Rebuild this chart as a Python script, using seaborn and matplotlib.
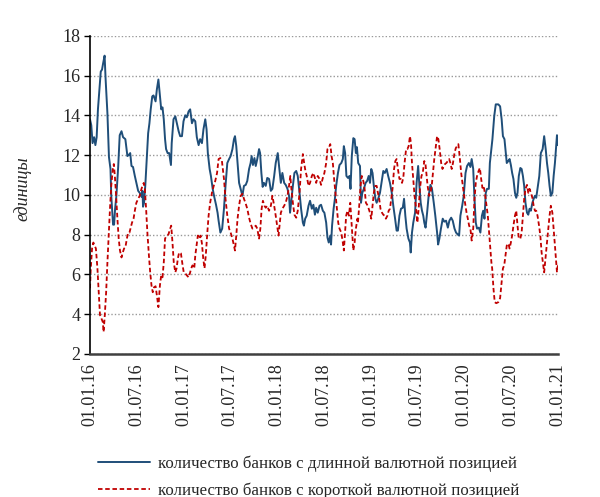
import pandas as pd
import matplotlib
matplotlib.use("Agg")
import matplotlib.pyplot as plt
import matplotlib.dates as mdates
import seaborn as sns

# days since 01.01.2016 and number of banks
long_day = [0, 5, 10, 16, 21, 26, 31, 38, 42, 47, 51, 57, 61, 68, 74, 80, 83, 90, 94, 98, 103, 110, 116, 123, 129, 138, 146, 151, 157, 162, 168, 175, 181, 188, 194, 201, 205, 207, 211, 216, 222, 227, 232, 237, 243, 248,
            256, 261, 267, 273, 278, 283, 288, 293, 297, 303, 309, 316, 319, 326, 333, 339, 346, 352, 359, 365, 372, 378, 385, 391, 398, 404, 411, 417, 424, 430, 437, 443, 450, 455, 460, 467, 472, 479, 485, 492, 498, 502, 509, 516,
            523, 529, 536, 543, 549, 556, 562, 566, 571, 576, 582, 588, 595, 601, 608, 614, 621, 627, 631, 636, 642, 647, 653, 660, 664, 669, 674, 679, 686, 692, 699, 706, 712, 719, 725, 733, 738, 745, 751, 758, 764, 771, 777,
            781, 785, 792, 798, 805, 811, 818, 824, 831, 835, 840, 846, 853, 859, 866, 872, 878, 883, 889, 896, 902, 909, 915, 922, 927, 932, 938, 941, 945, 951, 956, 961, 968, 974, 981, 987, 991, 996, 1001, 1007, 1013, 1017, 1022, 1028, 1033, 1038,
            1042, 1047, 1054, 1058, 1063, 1069, 1076, 1082, 1088, 1093, 1098, 1103, 1108, 1114, 1119, 1125, 1132, 1138, 1145, 1151, 1158, 1164, 1171, 1178, 1184, 1191, 1197, 1202, 1208, 1214, 1221, 1226, 1231, 1236, 1243, 1249, 1252, 1257, 1262, 1269, 1275, 1281, 1286, 1291, 1296, 1301,
            1305, 1310, 1316, 1322, 1329, 1335, 1342, 1348, 1355, 1359, 1364, 1370, 1377, 1383, 1390, 1397, 1403, 1410, 1416, 1423, 1429, 1436, 1441, 1446, 1453, 1459, 1466, 1472, 1479, 1485, 1490, 1496, 1501, 1506, 1511, 1518, 1524, 1530, 1535, 1540, 1545, 1550, 1557, 1561,
            1566, 1571, 1578, 1584, 1594, 1601, 1607, 1612, 1618, 1623, 1627, 1633, 1638, 1643, 1648, 1653, 1659, 1664, 1669, 1674, 1680, 1685, 1690, 1695, 1700, 1706, 1711, 1716, 1721, 1727, 1732, 1737, 1742, 1747, 1754, 1760, 1767, 1773, 1779, 1784, 1789, 1794, 1799, 1805, 1810, 1815, 1820, 1823, 1827]
long_val = [13.8, 13.5, 12.6, 12.9, 12.5, 12.9, 14.3, 15.5, 16.2, 16.3, 16.6, 17.0, 15.8, 14.1, 11.9, 11.3, 9.95, 8.5, 8.5, 9.3, 9.95, 11.4, 13.0, 13.2, 12.9, 12.8, 11.95, 12.0, 12.1, 11.45, 11.4, 10.95, 10.6, 10.2, 10.1, 9.9, 10.2, 9.4, 9.6, 10.5, 11.95, 13.1, 13.6, 14.3, 14.95, 15.0,
            14.7, 15.3, 15.8, 14.95, 14.3, 14.4, 13.8, 12.8, 12.3, 12.1, 12.1, 11.5, 12.6, 13.8, 13.95, 13.6, 13.2, 12.95, 12.95, 13.7, 14.0, 13.9, 14.2, 14.3, 13.6, 13.8, 13.7, 12.9, 12.5, 12.8, 12.6, 13.3, 13.8, 13.3, 12.1, 11.3, 10.95, 10.3, 9.9, 9.5, 9.1, 8.7, 8.1, 8.3,
            9.3, 10.45, 11.6, 11.8, 11.95, 12.3, 12.8, 12.95, 12.45, 11.6, 10.6, 10.3, 9.95, 10.45, 10.5, 10.7, 11.3, 11.6, 11.95, 11.5, 11.85, 11.45, 11.8, 12.3, 12.1, 11.1, 10.4, 10.6, 10.45, 10.85, 10.8, 10.2, 10.3, 10.95, 11.6, 12.1, 11.45, 10.6, 11.1, 10.6, 10.5, 10.3, 9.95,
            9.1, 9.6, 10.45, 11.1, 11.2, 10.95, 10.1, 9.3, 8.6, 8.45, 8.8, 8.95, 9.45, 9.7, 9.3, 9.5, 9.0, 9.35, 9.1, 9.45, 9.5, 9.2, 9.1, 8.6, 7.85, 7.6, 7.95, 7.5, 8.45, 9.3, 9.8, 10.45, 11.1, 11.5, 11.6, 11.8, 12.45, 12.1, 10.95, 10.85, 10.95, 10.3, 11.95, 12.85, 12.8, 12.1,
            12.4, 11.6, 11.45, 9.6, 10.1, 10.3, 10.6, 10.7, 10.95, 10.6, 11.3, 11.1, 10.45, 9.8, 9.6, 9.8, 10.1, 10.6, 11.2, 11.1, 11.3, 10.95, 10.6, 10.1, 9.45, 8.8, 8.2, 8.2, 8.95, 9.3, 9.35, 9.8, 8.95, 8.3, 7.8, 7.6, 7.1, 8.1, 8.6, 9.1, 10.6, 11.45, 10.45, 9.6, 9.2, 8.95,
            8.6, 8.35, 9.1, 9.95, 10.5, 10.3, 9.6, 8.95, 8.1, 7.5, 7.8, 8.3, 8.8, 8.65, 8.7, 8.35, 8.7, 8.85, 8.7, 8.3, 8.1, 8.0, 7.95, 8.95, 9.45, 9.95, 11.1, 11.45, 11.6, 11.4, 11.8, 11.3, 9.8, 8.6, 8.3, 8.35, 8.1, 8.95, 9.2, 8.8, 10.1, 10.3, 10.3, 11.6,
            12.2, 12.8, 13.95, 14.55, 14.55, 14.45, 13.8, 12.95, 12.8, 12.1, 11.6, 11.7, 11.8, 11.5, 11.1, 10.8, 10.1, 9.85, 10.1, 10.95, 11.35, 11.3, 10.95, 10.45, 9.6, 9.1, 9.0, 9.3, 9.2, 9.6, 9.8, 9.95, 9.85, 10.3, 10.95, 12.1, 12.3, 12.95, 12.3, 11.6, 11.1, 10.45, 9.95, 10.1, 10.95, 11.6, 12.45, 13.0, 12.5]

short_day = [0, 3, 8, 13, 18, 23, 29, 34, 39, 44, 50, 53, 57, 63, 68, 73, 78, 83, 89, 93, 97, 102, 107, 112, 117, 123, 128, 133, 138, 144, 149, 154, 159, 164, 170, 175, 181, 188, 194, 201, 206, 210, 214, 219, 224, 230, 235, 240, 245, 250,
             256, 261, 267, 273, 278, 283, 288, 293, 300, 306, 313, 317, 322, 327, 333, 338, 343, 348, 355, 361, 366, 372, 378, 385, 390, 395, 400, 407, 411, 416, 421, 426, 432, 437, 442, 447, 452, 458, 463, 469, 476, 483, 489, 496, 502, 509, 515,
             523, 529, 536, 543, 549, 556, 562, 566, 571, 576, 582, 588, 595, 601, 608, 614, 621, 627, 634, 640, 647, 653, 660, 665, 670, 675, 681, 686, 692, 699, 706, 712, 719, 725, 732, 736, 741, 745, 751, 758, 764, 771, 777, 782,
             785, 792, 798, 805, 811, 818, 824, 831, 836, 841, 846, 853, 859, 866, 872, 878, 883, 889, 896, 902, 909, 915, 922, 927, 932, 938, 943, 948, 953, 958, 964, 969, 974, 981, 987, 991, 995, 1000, 1005, 1011, 1016, 1020, 1024, 1028, 1033, 1038, 1044,
             1046, 1051, 1056, 1061, 1067, 1072, 1077, 1082, 1088, 1093, 1098, 1103, 1108, 1114, 1119, 1124, 1129, 1134, 1140, 1145, 1150, 1155, 1161, 1166, 1171, 1176, 1181, 1187, 1192, 1197, 1202, 1208, 1213, 1218, 1223, 1228, 1234, 1239, 1244, 1249, 1253, 1257, 1262, 1267, 1273, 1278, 1283, 1288, 1294, 1299,
             1305, 1310, 1318, 1324, 1329, 1334, 1339, 1344, 1350, 1355, 1360, 1365, 1371, 1376, 1381, 1386, 1391, 1397, 1402, 1407, 1412, 1417, 1423, 1428, 1433, 1438, 1443, 1449, 1454, 1459, 1464, 1470, 1475, 1480, 1485, 1490, 1496, 1501, 1506, 1511, 1517, 1522, 1527, 1532, 1537, 1543, 1548, 1553, 1558, 1563,
             1567, 1570, 1575, 1580, 1586, 1594, 1601, 1607, 1612, 1617, 1622, 1627, 1633, 1638, 1643, 1648, 1653, 1659, 1664, 1669, 1674, 1680, 1685, 1690, 1695, 1700, 1706, 1711, 1716, 1721, 1727, 1732, 1737, 1742, 1747, 1753, 1758, 1763, 1768, 1773, 1779, 1784, 1789, 1794, 1799, 1805, 1810, 1815, 1820, 1823, 1827]
short_val = [5.3, 6.3, 7.3, 7.6, 7.45, 7.3, 6.3, 5.1, 3.95, 3.8, 3.6, 3.1, 3.8, 5.1, 6.6, 7.95, 9.3, 10.45, 11.3, 11.55, 10.95, 9.95, 8.8, 7.8, 7.2, 6.85, 7.1, 7.3, 7.35, 7.8, 8.1, 8.1, 8.35, 8.6, 8.8, 9.2, 9.6, 9.8, 9.95, 10.3, 10.5, 10.6, 10.3, 9.3, 8.1, 6.95, 6.1, 5.45, 5.1, 5.35,
             5.4, 4.95, 4.35, 5.45, 5.95, 5.85, 6.6, 7.8, 7.95, 8.0, 8.3, 8.45, 7.6, 6.6, 6.1, 6.3, 6.8, 7.1, 7.05, 6.5, 6.1, 6.05, 5.95, 5.85, 6.05, 6.3, 6.45, 6.3, 6.95, 7.45, 7.95, 7.8, 7.95, 7.55, 6.8, 6.3, 6.95, 8.1, 8.95, 9.6, 10.1, 10.45, 10.7, 11.1, 11.8, 11.85, 11.7,
             10.8, 9.8, 8.95, 8.3, 8.1, 7.8, 7.45, 7.2, 7.95, 8.8, 9.45, 9.95, 10.05, 9.8, 9.55, 9.3, 8.85, 8.55, 8.3, 8.35, 8.45, 8.3, 7.8, 8.3, 9.3, 9.7, 9.45, 9.35, 9.45, 9.2, 9.45, 9.95, 9.45, 8.95, 8.3, 7.95, 8.6, 9.1, 9.3, 9.45, 9.6, 9.95, 10.45, 10.95,
             10.45, 9.6, 9.0, 8.85, 9.2, 10.1, 11.3, 12.05, 11.6, 11.2, 10.95, 10.45, 10.6, 10.95, 11.1, 10.85, 10.6, 10.95, 10.8, 10.5, 10.85, 11.1, 11.6, 12.3, 12.35, 12.55, 11.95, 11.6, 10.8, 10.1, 9.3, 8.6, 8.3, 8.1, 7.6, 7.2, 7.95, 8.95, 9.2, 8.95, 9.6, 8.8, 7.95, 7.2, 7.6, 8.3, 8.8,
             8.6, 9.45, 10.45, 10.95, 10.7, 10.3, 9.6, 9.5, 9.3, 9.1, 8.8, 9.45, 10.1, 10.45, 10.45, 10.1, 9.8, 9.3, 9.1, 9.0, 8.95, 8.8, 8.95, 9.2, 9.3, 9.8, 10.3, 11.3, 11.7, 11.8, 11.3, 10.8, 10.8, 10.6, 10.85, 11.6, 12.3, 12.3, 12.45, 12.95, 12.6, 11.6, 10.8, 9.95, 9.3, 8.6, 9.3, 10.3, 10.95, 11.1,
             11.7, 11.5, 10.45, 9.95, 10.1, 10.45, 11.1, 11.8, 12.45, 12.95, 12.8, 12.3, 11.6, 11.3, 11.45, 11.55, 11.6, 11.7, 11.8, 11.6, 11.3, 11.6, 12.1, 12.35, 12.45, 12.55, 11.95, 11.1, 10.6, 10.1, 9.6, 9.1, 8.8, 8.45, 8.3, 7.7, 8.3, 9.8, 10.6, 10.95, 11.2, 11.35, 10.8, 10.35, 10.45, 9.95, 9.45, 8.95, 8.1, 7.3,
             6.6, 6.3, 5.3, 4.6, 4.55, 4.6, 4.8, 5.6, 6.3, 6.45, 6.95, 7.45, 7.55, 7.3, 7.6, 7.95, 8.45, 8.95, 9.2, 8.45, 7.8, 7.8, 8.1, 8.95, 9.8, 10.3, 10.5, 10.1, 10.3, 10.1, 9.85, 9.45, 9.2, 9.2, 8.95, 8.45, 7.95, 7.1, 6.6, 6.1, 6.95, 7.6, 8.3, 8.95, 9.45, 9.1, 8.3, 7.45, 6.6, 6.1, 6.5]

long_label = "количество банков с длинной валютной позицией"
short_label = "количество банков с короткой валютной позицией"
y_ticks = [2, 4, 6, 8, 10, 12, 14, 16, 18]

start = pd.Timestamp("2016-01-01")
long_df = pd.DataFrame({"date": start + pd.to_timedelta(long_day, unit="D"), "value": long_val})
short_df = pd.DataFrame({"date": start + pd.to_timedelta(short_day, unit="D"), "value": short_val})

sns.set_style("white")
plt.rcParams["font.family"] = ["Liberation Serif", "DejaVu Serif"]
plt.rcParams["font.size"] = 13

fig = plt.figure(figsize=(6, 4.97), dpi=100)
ax = fig.add_axes([0.15, 0.288, 0.78, 0.64])

sns.lineplot(data=long_df, x="date", y="value", ax=ax, color="#1f4e79", linewidth=1.4, label=long_label)
sns.lineplot(data=short_df, x="date", y="value", ax=ax, color="#c00000", linewidth=1.3,
             linestyle=(0, (2.5, 1.5)), label=short_label)

ax.set_ylim(2, 18)
ax.set_yticks(y_ticks)
ax.set_xlim(pd.Timestamp("2016-01-01"), pd.Timestamp("2021-01-01"))
ax.xaxis.set_major_locator(mdates.MonthLocator(bymonth=[1, 7]))
ax.xaxis.set_major_formatter(mdates.DateFormatter("%d.%m.%y"))
plt.setp(ax.get_xticklabels(), rotation=90)
ax.tick_params(axis="x", length=0, pad=7, labelsize=13)
ax.tick_params(axis="y", length=4, width=1, direction="out", color="black", labelsize=13, pad=3, left=True)

ax.yaxis.grid(True, linestyle=(0, (1, 1.5)), color="#999999", linewidth=1)
ax.xaxis.grid(False)
for side in ["top", "right"]:
    ax.spines[side].set_visible(False)
ax.spines["left"].set_color("black")
ax.spines["left"].set_linewidth(1.2)
ax.spines["bottom"].set_color("#404040")
ax.spines["bottom"].set_linewidth(1.8)

ax.set_xlabel("")
ax.set_ylabel("единицы", fontstyle="italic", fontsize=13, labelpad=19)
ax.yaxis.set_label_coords(-0.125, 0.52)

handles, labels = ax.get_legend_handles_labels()
ax.get_legend().remove()
fig.legend(handles, labels, loc="upper left", bbox_to_anchor=(0.163, 0.083), frameon=False,
           handlelength=3.1, handletextpad=0.45, labelspacing=0.62, borderpad=0, borderaxespad=0,
           fontsize=12.2)

fig.savefig("out.png", dpi=100)
